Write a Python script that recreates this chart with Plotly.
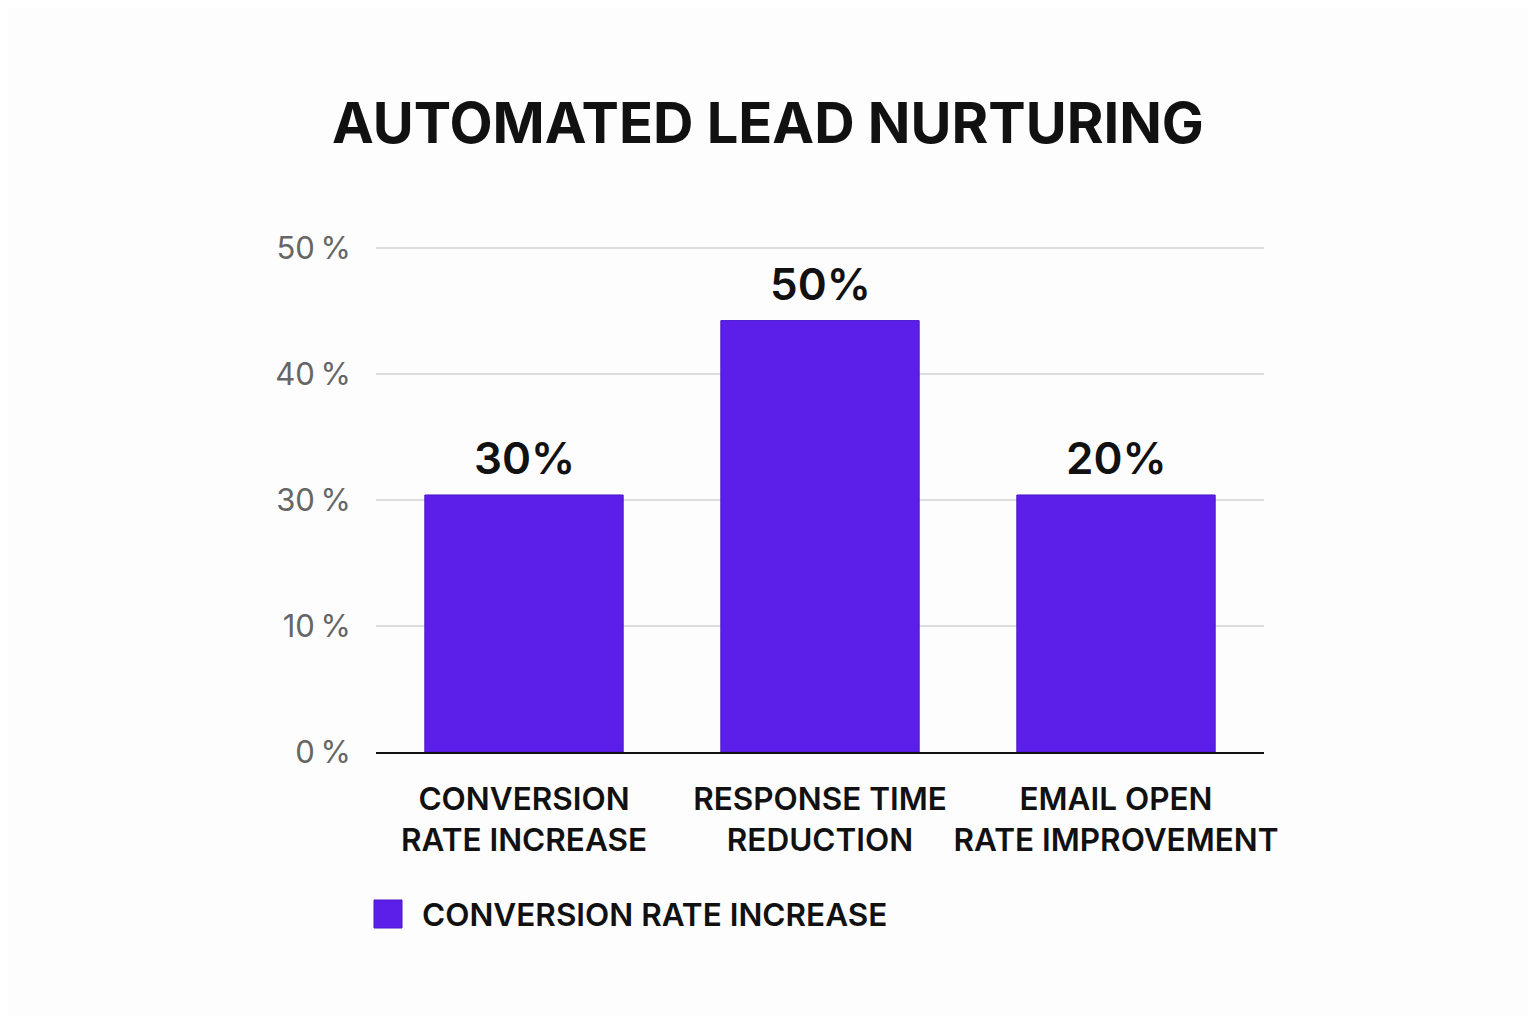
import plotly.graph_objects as go

categories = ["CONVERSION<br>RATE INCREASE", "RESPONSE TIME<br>REDUCTION", "EMAIL OPEN<br>RATE IMPROVEMENT"]
series_name = "CONVERSION RATE INCREASE"
# bar heights as drawn against the (unevenly labelled) axis, on a 0-50 scale
bar_heights = [25.5, 42.8, 25.5]
bar_labels = ["30%", "50%", "20%"]
tick_positions = [0, 12.5, 25, 37.5, 50]
tick_labels = ["0\u2009%", "10\u2009%", "30\u2009%", "40\u2009%", "50\u2009%"]

BAR_COLOR = "#5b1fe9"
FONT = "Inter"

W, H = 1520, 1008
PL, PR, PT, PB = 368, 264, 236, 264  # plot area margins
PW, PH = W - PL - PR, H - PT - PB

fig = go.Figure()
fig.add_trace(go.Bar(
    x=categories,
    y=bar_heights,
    name=series_name,
    marker=dict(color=BAR_COLOR, line=dict(color="#4a16c9", width=1)),
    width=0.67,
    showlegend=False,
))

label_annotations = [
    dict(x=c, y=v, text=t, xref="x", yref="y", showarrow=False,
         xanchor="center", yanchor="bottom", yshift=8,
         font=dict(family=FONT, size=44, color="#111111", weight=600))
    for c, v, t in zip(categories, bar_heights, bar_labels)
]

fig.update_layout(
    width=W,
    height=H,
    paper_bgcolor="#fdfdfd",
    plot_bgcolor="#fdfdfd",
    margin=dict(l=PL, r=PR, t=PT, b=PB),
    title=dict(
        text="<b>AUTOMATED LEAD NURTURING</b>",
        x=0.5, xanchor="center",
        y=1 - 115 / H, yanchor="middle",
        font=dict(family=FONT, size=56, color="#111111"),
    ),
    font=dict(family=FONT),
    xaxis=dict(
        showgrid=False,
        showline=True,
        linecolor="#111111",
        linewidth=2,
        ticks="",
        tickfont=dict(family=FONT, size=31.5, color="#111111", weight=600),
        ticklabelstandoff=18,
    ),
    yaxis=dict(
        range=[0, 50.4],
        tickvals=tick_positions,
        ticktext=tick_labels,
        showgrid=True,
        gridcolor="#dddddd",
        gridwidth=1.5,
        zeroline=False,
        showline=False,
        ticks="",
        tickfont=dict(family=FONT, size=31, color="#666666"),
        ticklabelstandoff=24,
    ),
    shapes=[
        dict(type="rect", xref="paper", yref="paper",
             x0=-2 / PW, x1=26 / PW,
             y0=-(928 - 752) / PH, y1=-(900 - 752) / PH,
             fillcolor=BAR_COLOR, line=dict(color="#4a16c9", width=1)),
    ],
    annotations=label_annotations + [
        dict(text=series_name, xref="paper", yref="paper",
             x=44 / PW, y=-(915 - 752) / PH, xanchor="left", yanchor="middle",
             showarrow=False,
             font=dict(family=FONT, size=31.5, color="#111111", weight=600)),
    ],
)

fig.write_html("out.html")
